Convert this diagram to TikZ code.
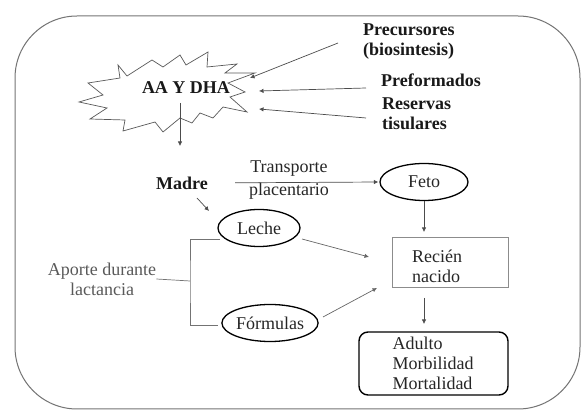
\documentclass[tikz,border=0pt]{standalone}
\usepackage{fontspec}
\setmainfont{Liberation Serif}
\usetikzlibrary{shapes.geometric,arrows.meta}
\begin{document}
\begin{tikzpicture}[x=1pt,y=-1pt,
  txt/.style={font=\fontsize{18}{20}\selectfont, inner sep=0pt, text=black!85},
  btxt/.style={txt, font=\fontsize{18}{20}\selectfont\bfseries, text=black!90},
  oval/.style={ellipse, draw=black, line width=1.3pt, inner sep=0pt, txt},
  arr/.style={draw=black!70, line width=0.7pt, -{Latex[length=4.5pt,width=4.5pt]}},
  plain/.style={draw=black!65, line width=0.7pt}]
\useasboundingbox (0,0) rectangle (582,411);
% frame
\draw[draw=black!55, line width=1pt, rounded corners=62pt] (15,16) rectangle (580,409);
% star
\draw[draw=black!65, line width=0.7pt, fill=white] (118,65) -- (127,76) -- (152,60) -- (163,67) -- (180,55) -- (186,65) -- (208,52) -- (207,67) -- (237,64) -- (225,73) -- (255,73) -- (228,83) -- (245,92) -- (230,97) -- (247,112) -- (223,107) -- (213,118) -- (200,113) -- (192,123) -- (180,118) -- (163,132) -- (155,122) -- (123,131) -- (125,120) -- (90,119) -- (107,108) -- (79,102) -- (103,95) -- (88,83) -- (120,78) -- cycle;
\node[btxt] (aa) at (186,88) {AA Y DHA};
% right labels
\node[btxt, anchor=west, align=left] (prec) at (363,42) {Precursores\\(biosintesis)};
\node[btxt, anchor=west] (pref) at (381,80) {Preformados};
\node[btxt, anchor=west, align=left] (res) at (382,114) {Reservas\\tisulares};
\coordinate (precS) at (338,43);
\coordinate (precE) at (250,78);
\coordinate (prefS) at (366,88);
\coordinate (prefE) at (259,91);
\coordinate (resS) at (366,118);
\coordinate (resE) at (259,109);
\draw[arr] (precS) -- (precE);
\draw[arr] (prefS) -- (prefE);
\draw[arr] (resS) -- (resE);
% down from star
\coordinate (aaS) at (180,103);
\coordinate (madreN) at (180,146);
\draw[arr] (aaS) -- (madreN);
% Madre
\node[btxt] (madre) at (182,183) {Madre};
\node[txt, align=center, font=\fontsize{18}{23}\selectfont] (tp) at (289,180) {Transporte\\placentario};
\node[oval, minimum width=88pt, minimum height=37pt] (feto) at (424,182) {Feto};
\draw[arr, shorten <=27pt, shorten >=1pt] (madre.east) -- (feto.west);
% Leche, Formulas
\node[oval, minimum width=82pt, minimum height=37pt] (leche) at (259,228) {Leche};
\node[oval, minimum width=80pt, minimum height=37pt] (form) at (270,323) {Fórmulas};
\coordinate (mlS) at (197,198);
\coordinate (mlE) at (209,211);
\draw[arr] (mlS) -- (mlE);
% Aporte bracket
\node[txt, align=center, text=black!65] (aporte) at (102,279) {Aporte durante\\lactancia};
\coordinate (bT) at (220,239);
\coordinate (bB) at (218,325);
\coordinate (bM) at (190,281);
\draw[plain, draw=black!55] (bT) -| (bM) |- (bB);
\draw[plain, draw=black!55] (aporte.east) -- (bM);
% Recien nacido
\node[draw=black!45, line width=0.8pt, minimum width=116pt, minimum height=50pt, inner sep=0pt] (rn) at (450,262) {};
\node[txt, align=left, anchor=west] (rnt) at (412,266) {Recién\\nacido};
\coordinate (fetoRn) at (424,232);
\draw[arr] (feto.south) -- (fetoRn);
\coordinate (lecheS) at (302,239);
\coordinate (lecheE) at (369,257);
\draw[arr, draw=black!60] (lecheS) -- (lecheE);
\coordinate (formS) at (323,317);
\coordinate (formE) at (377,288);
\draw[arr, draw=black!60] (formS) -- (formE);
% Adulto
\node[draw=black, line width=1.4pt, rounded corners=9pt, minimum width=149pt, minimum height=63pt, inner sep=0pt] (ad) at (433.5,363.5) {};
\node[txt, align=left] (adt) at (433,363) {Adulto\\Morbilidad\\Mortalidad};
\coordinate (rnS) at (424,298);
\coordinate (adN) at (424,324);
\draw[arr] (rnS) -- (adN);
\end{tikzpicture}
\end{document}
